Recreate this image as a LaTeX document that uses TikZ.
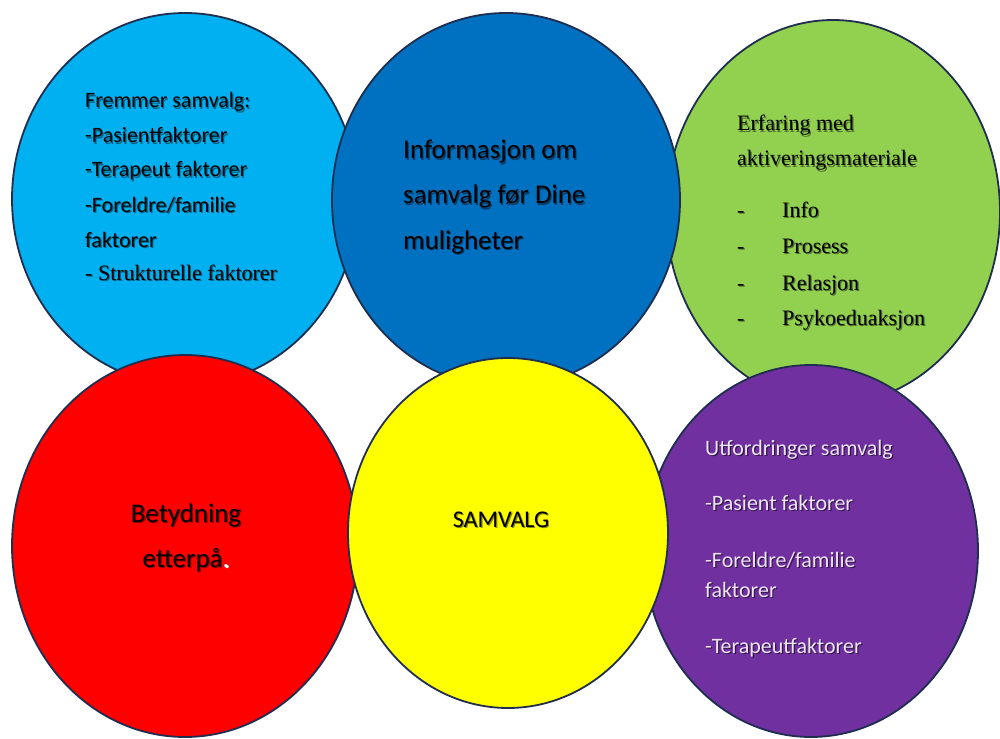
\documentclass[tikz,border=0pt]{standalone}
\usepackage{fontspec}
\setmainfont{Carlito}
\newfontfamily\tnr{Liberation Serif}
\usetikzlibrary{shapes.geometric}
\definecolor{cLB}{HTML}{00B0F0}
\definecolor{cDB}{HTML}{0070C0}
\definecolor{cGR}{HTML}{92D050}
\definecolor{cRD}{HTML}{FF0000}
\definecolor{cYL}{HTML}{FFFF00}
\definecolor{cPU}{HTML}{7030A0}
\definecolor{cOL}{HTML}{1F2D4E}
\definecolor{cLV}{HTML}{EEE4F6}
\newcommand\shd[2]{\makebox[0pt][l]{\kern1.2pt\raisebox{-1.2pt}{\textcolor{#1}{#2}}}#2}
\tikzset{
  blob/.style={ellipse, draw=cOL, line width=1.8pt, inner sep=0pt, outer sep=0pt},
  txt/.style={anchor=base west, inner sep=0pt, text=black},
  txtc/.style={anchor=base, inner sep=0pt, text=black},
  fA/.style={font=\fontsize{22}{26}\selectfont},
  fB/.style={font=\fontsize{27}{32}\selectfont},
  fT/.style={font=\tnr\fontsize{22}{26}\selectfont},
}
\begin{document}
\begin{tikzpicture}[x=1pt,y=-1pt]
\useasboundingbox (0,0) rectangle (1000,738);
% ellipses (stacking order as in the reference)
\node[blob, fill=cLB, minimum width=346pt, minimum height=372pt] (lb) at (185,199) {};
\node[blob, fill=cGR, minimum width=334pt, minimum height=384pt] (gr) at (833,212) {};
\node[blob, fill=cRD, minimum width=346pt, minimum height=382pt] (rd) at (185,546) {};
\node[blob, fill=cPU, minimum width=334pt, minimum height=372pt] (pu) at (811,551) {};
\node[blob, fill=cDB, minimum width=348pt, minimum height=374pt] (db) at (506,200) {};
\node[blob, fill=cYL, minimum width=320pt, minimum height=350pt] (yl) at (508,533) {};
% light blue text
\def\sc{black!45!cLB}
\node[txt, fA] (lb1) at (85,108) {\shd{\sc}{Fremmer samvalg:}};
\node[txt, fA] (lb2) at (85,143) {\shd{\sc}{-Pasientfaktorer}};
\node[txt, fA] (lb3) at (85,177) {\shd{\sc}{-Terapeut faktorer}};
\node[txt, fA] (lb4) at (85,212) {\shd{\sc}{-Foreldre/familie}};
\node[txt, fA] (lb5) at (85,247) {\shd{\sc}{faktorer}};
\node[txt, fT] (lb6) at (85,280) {\shd{\sc}{- Strukturelle faktorer}};
% dark blue text
\node[txt, fB] (db1) at (403,159) {\shd{black!45!cDB}{Informasjon om}};
\node[txt, fB] (db2) at (403,204) {\shd{black!45!cDB}{samvalg før Dine}};
\node[txt, fB] (db3) at (403,249) {\shd{black!45!cDB}{muligheter}};
% green text
\def\sg{black!45!cGR}
\node[txt, fT] (gr1) at (737,131) {\shd{\sg}{Erfaring med}};
\node[txt, fT] (gr2) at (737,166) {\shd{\sg}{aktiveringsmateriale}};
\node[txt, fT] (gd1) at (737,217) {\shd{\sg}{-}};
\node[txt, fT] (gi1) at (782,217) {\shd{\sg}{Info}};
\node[txt, fT] (gd2) at (737,253) {\shd{\sg}{-}};
\node[txt, fT] (gi2) at (782,253) {\shd{\sg}{Prosess}};
\node[txt, fT] (gd3) at (737,290) {\shd{\sg}{-}};
\node[txt, fT] (gi3) at (782,290) {\shd{\sg}{Relasjon}};
\node[txt, fT] (gd4) at (737,325) {\shd{\sg}{-}};
\node[txt, fT] (gi4) at (782,325) {\shd{\sg}{Psykoeduaksjon}};
% red text
\node[txtc, fB] (rd1) at (186,522) {\shd{black!45!cRD}{Betydning}};
\node[txtc, fB] (rd2) at (186,567) {\shd{black!45!cRD}{etterpå\textcolor{white}{.}}};
% yellow text
\node[txtc, font=\fontsize{24}{28}\selectfont] (yl1) at (501,527) {\shd{black!45!cYL}{SAMVALG}};
% purple text
\def\sp{black!55!cPU}
\node[txt, fA, text=cLV] (pu1) at (705,455) {\shd{\sp}{Utfordringer samvalg}};
\node[txt, fA, text=cLV] (pu2) at (705,510) {\shd{\sp}{-Pasient faktorer}};
\node[txt, fA, text=cLV] (pu3) at (705,567) {\shd{\sp}{-Foreldre/familie}};
\node[txt, fA, text=cLV] (pu4) at (705,597) {\shd{\sp}{faktorer}};
\node[txt, fA, text=cLV] (pu5) at (705,653) {\shd{\sp}{-Terapeutfaktorer}};
\end{tikzpicture}
\end{document}
